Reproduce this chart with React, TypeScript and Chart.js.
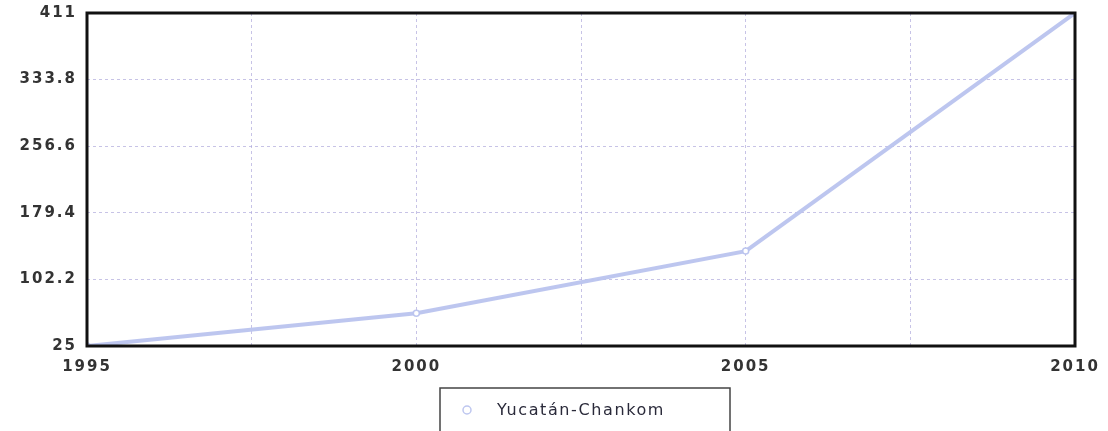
import React, { useEffect, useRef } from "react";
import { Chart, registerables } from "chart.js";

Chart.register(...registerables);

const years = [1995, 2000, 2005, 2010];
const values = [25, 63, 135, 411];
const yTicks = [25, 102.2, 179.4, 256.6, 333.8, 411];
const xTicks = [1995, 1997.5, 2000, 2002.5, 2005, 2007.5, 2010];
const xLabelYears = [1995, 2000, 2005, 2010];
const seriesName = "Yucatán-Chankom";

const LINE_COLOR = "rgba(185,195,238,0.95)";
const GRID_COLOR = "rgba(175,170,220,0.7)";
const TEXT_COLOR = "#333333";

export default function App() {
  const ref = useRef<HTMLCanvasElement | null>(null);
  useEffect(() => {
    if (!ref.current) return;
    const framePlugin = {
      id: "frame",
      beforeDraw(chart: any) {
        chart.ctx.letterSpacing = "2px";
      },
      afterDraw(chart: any) {
        const ctx = chart.ctx;
        const a = chart.chartArea;
        ctx.save();
        ctx.letterSpacing = "0px";
        ctx.strokeStyle = "#111111";
        ctx.lineWidth = 3;
        ctx.strokeRect(a.left, a.top, a.right - a.left, a.bottom - a.top);
        // legend
        const bx = 440, by = 388, bw = 290, bh = 60;
        ctx.lineWidth = 1.5;
        ctx.strokeStyle = "#444444";
        ctx.strokeRect(bx, by, bw, bh);
        ctx.beginPath();
        ctx.arc(467, 410, 4, 0, Math.PI * 2);
        ctx.fillStyle = "#ffffff";
        ctx.fill();
        ctx.strokeStyle = LINE_COLOR;
        ctx.lineWidth = 1.5;
        ctx.stroke();
        ctx.letterSpacing = "1.6px";
        ctx.fillStyle = "#2a2a3a";
        ctx.font = "16px 'DejaVu Sans'";
        ctx.textBaseline = "middle";
        ctx.textAlign = "left";
        ctx.fillText(seriesName, 497, 411);
        ctx.restore();
        chart.ctx.letterSpacing = "0px";
      },
    };
    const chart = new Chart(ref.current, {
      type: "line",
      data: {
        datasets: [
          {
            label: seriesName,
            data: years.map((y, i) => ({ x: y, y: values[i] })),
            borderColor: LINE_COLOR,
            borderWidth: 4,
            pointRadius: 3,
            pointBackgroundColor: "#ffffff",
            pointBorderColor: LINE_COLOR,
            pointBorderWidth: 1.5,
            tension: 0,
          },
        ],
      },
      options: {
        animation: false,
        responsive: false,
        maintainAspectRatio: false,
        layout: { padding: { top: 13, right: 33, left: 0, bottom: 0 } },
        plugins: { legend: { display: false }, tooltip: { enabled: false } },
        scales: {
          x: {
            type: "linear",
            min: 1995,
            max: 2010,
            afterBuildTicks: (s: any) => {
              s.ticks = xTicks.map((v) => ({ value: v }));
            },
            afterFit: (s: any) => {
              s.height = 85;
              s.paddingLeft = 0;
              s.paddingRight = 0;
            },
            ticks: {
              autoSkip: false,
              maxRotation: 0,
              padding: 12,
              color: TEXT_COLOR,
              font: { family: "'DejaVu Sans'", size: 15, weight: "bold" },
              callback: (v: any) => (xLabelYears.includes(Number(v)) ? String(v) : ""),
            },
            grid: {
              color: GRID_COLOR,
              lineWidth: 1,
              drawTicks: false,
            },
            border: { display: false, dash: [3, 3] },
          },
          y: {
            type: "linear",
            min: 25,
            max: 411,
            afterBuildTicks: (s: any) => {
              s.ticks = yTicks.map((v) => ({ value: v }));
            },
            afterFit: (s: any) => {
              s.width = 87;
              s.paddingTop = 0;
              s.paddingBottom = 0;
            },
            ticks: {
              autoSkip: false,
              padding: 10,
              color: TEXT_COLOR,
              font: { family: "'DejaVu Sans'", size: 15, weight: "bold" },
              callback: (v: any) => String(v),
            },
            grid: {
              color: GRID_COLOR,
              lineWidth: 1,
              drawTicks: false,
            },
            border: { display: false, dash: [3, 3] },
          },
        },
      } as any,
      plugins: [framePlugin],
    });
    return () => chart.destroy();
  }, []);
  return (
    <div style={{ position: "absolute", left: 0, top: 0, width: 1108, height: 431, background: "#ffffff" }}>
      <canvas ref={ref} width={1108} height={431} style={{ width: 1108, height: 431, display: "block" }} />
    </div>
  );
}
